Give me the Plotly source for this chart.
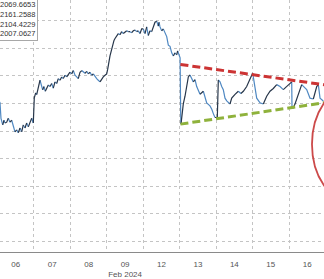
import plotly.graph_objects as go

days = ["06", "07", "08", "09", "12", "13", "14", "15", "16"]
tick_text = ["06", "07", "08", "09<br>Feb 2024", "12", "13", "14", "15", "16"]

# intraday position (fraction of the session) and price, one pair of lists per day
pos06 = [0.039,0.067,0.094,0.141,0.177,0.204,0.251,0.295,0.341,0.388,0.432,0.478,0.525,0.569,0.616,0.662,0.706,0.753,0.800,0.844,0.890,0.937,0.981]
val06 = [150.9,150.3,144.6,142.2,143.9,142.9,143.2,144.6,143.2,143.9,141.5,139.7,140.4,139.4,141.1,139.7,142.2,141.1,142.9,141.5,143.2,144.6,142.9]
pos07 = [0.008,0.047,0.074,0.118,0.165,0.192,0.239,0.274,0.310,0.349,0.393,0.439,0.486,0.530,0.576,0.623,0.667,0.714,0.760,0.804,0.851,0.898,0.942,0.988]
val07 = [152.0,153.8,153.2,156.1,158.4,157.2,154.9,156.1,154.4,155.5,156.7,156.1,157.2,155.5,157.8,157.2,159.0,158.4,159.6,159.0,160.2,159.6,160.7,161.3]
pos08 = [0.035,0.079,0.126,0.172,0.216,0.263,0.310,0.353,0.400,0.447,0.491,0.537,0.584,0.628,0.674,0.721,0.765,0.812,0.858,0.902,0.949,0.995]
val08 = [160.7,161.9,160.2,159.6,159.0,161.3,161.9,161.3,160.9,161.6,160.7,161.3,160.2,160.7,159.6,159.0,158.4,157.8,159.0,159.6,160.2,160.7]
pos09 = [0.023,0.040,0.067,0.086,0.133,0.160,0.196,0.224,0.270,0.314,0.361,0.407,0.451,0.498,0.545,0.589,0.635,0.682,0.726,0.772,0.819,0.863,0.910,0.956]
val09 = [162.4,164.8,165.8,167.2,170.0,171.1,172.8,173.5,174.6,175.3,174.9,176.0,175.3,176.0,176.3,176.0,176.0,175.6,176.3,176.6,176.0,176.3,175.3,177.0]
pos12 = [0.000,0.047,0.093,0.137,0.184,0.231,0.275,0.321,0.368,0.412,0.431,0.459,0.505,0.549,0.596,0.643,0.687,0.733,0.780,0.824,0.870,0.916,0.943,0.975]
val12 = [177.0,175.3,177.7,174.6,176.3,176.0,178.0,179.4,179.8,178.0,179.4,177.7,176.3,177.0,175.3,174.2,171.1,170.7,168.3,167.2,168.3,167.6,169.0,167.6]
pos13 = [0.010,0.027,0.035,0.098,0.145,0.190,0.236,0.282,0.373,0.420,0.466,0.557,0.648,0.700,0.740,0.831,0.880,0.922,0.968]
val13 = [166.5,145.6,142.5,149.8,152.6,156.5,159.6,160.3,157.8,158.6,156.1,153.3,154.4,151.6,150.2,149.1,147.9,146.3,144.9]
pos14 = [0.032,0.059,0.106,0.152,0.196,0.243,0.290,0.380,0.427,0.518,0.608,0.680,0.746,0.838,0.929]
val14 = [144.9,158.5,157.8,156.1,155.0,151.9,150.9,149.8,151.9,153.3,154.4,153.6,154.4,156.1,158.5]
pos15 = [0.003,0.066,0.113,0.204,0.294,0.387,0.478,0.569,0.662,0.753,0.843,0.936]
val15 = [161.0,156.1,151.9,150.2,149.8,152.6,154.4,155.4,156.8,156.1,155.0,156.1]
pos16 = [0.027,0.074,0.082,0.118,0.164,0.255,0.348,0.392,0.485,0.576,0.667,0.713,0.760,0.804,0.851,0.941]
val16 = [157.1,157.8,148.4,148.4,149.8,153.7,156.8,156.1,155.0,151.9,151.6,153.7,156.1,156.8,151.9,150.9]

day_pos = [pos06, pos07, pos08, pos09, pos12, pos13, pos14, pos15, pos16]
day_val = [val06, val07, val08, val09, val12, val13, val14, val15, val16]

# trend lines (start / end in day units and price)
res_t = [5.02, 9.0]
res_v = [164.1, 156.7]
sup_t = [5.02, 9.0]
sup_v = [142.5, 150.3]

# legend box values
box_vals = ["2069.6653", "2161.2588", "2104.4229", "2007.0627"]

t_all, v_all = [], []
for i, (ps, vs) in enumerate(zip(day_pos, day_val)):
    for p, v in zip(ps, vs):
        t_all.append(i + p)
        v_all.append(v)

# split into rising (dark) and falling (blue) runs
up_x, up_y, dn_x, dn_y = [], [], [], []
prev_dir = None
for k in range(1, len(t_all)):
    d = "up" if v_all[k] >= v_all[k - 1] else "dn"
    xs, ys = (up_x, up_y) if d == "up" else (dn_x, dn_y)
    if d != prev_dir:
        xs.extend([None, t_all[k - 1]])
        ys.extend([None, v_all[k - 1]])
    xs.append(t_all[k])
    ys.append(v_all[k])
    prev_dir = d

fig = go.Figure()
fig.add_trace(go.Scatter(x=dn_x, y=dn_y, mode="lines", line=dict(color="#4f88c2", width=1.2),
                         connectgaps=False, hoverinfo="skip"))
fig.add_trace(go.Scatter(x=up_x, y=up_y, mode="lines", line=dict(color="#27364a", width=1.2),
                         connectgaps=False, hoverinfo="skip"))
fig.add_trace(go.Scatter(x=res_t, y=res_v, mode="lines",
                         line=dict(color="#cc3434", width=3, dash="8px,4px"), hoverinfo="skip"))
fig.add_trace(go.Scatter(x=sup_t, y=sup_v, mode="lines",
                         line=dict(color="#8fb23c", width=3, dash="8px,4px"), hoverinfo="skip"))

fig.add_shape(type="circle", xref="x", yref="y", x0=8.63, x1=10.83, y0=114.3, y1=156.1,
              line=dict(color="#cc4a4a", width=1.8))

fig.add_annotation(xref="paper", yref="paper", x=38 / 324, y=1, xanchor="right", yanchor="top",
                   yshift=3, text="<br>".join(box_vals), showarrow=False, align="right",
                   font=dict(family="Liberation Sans, Arial, sans-serif", size=7.5, color="#333333"),
                   bgcolor="white", bordercolor="#a8a8a8", borderwidth=1, borderpad=2)

fig.update_layout(
    width=324, height=279,
    margin=dict(l=0, r=0, t=0, b=17),
    paper_bgcolor="white", plot_bgcolor="white",
    showlegend=False,
    font=dict(family="Liberation Sans, Arial, sans-serif", size=8, color="#555555"),
)
fig.update_xaxes(
    range=[0.067, 8.96],
    tickmode="array", tickvals=[i + 0.5 for i in range(len(days))], ticktext=tick_text,
    showgrid=False, ticks="", showline=True, linecolor="#8a8a8a", linewidth=1,
    zeroline=False, ticklabelstandoff=4,
    minor=dict(tickmode="linear", tick0=0, dtick=1, showgrid=True, gridcolor="#c4c4c4",
               griddash="dot", gridwidth=1, ticks=""),
    tickfont=dict(size=8, color="#555555"),
)
fig.update_yaxes(
    range=[96.17, 187.46], tick0=0, dtick=10, showticklabels=False, ticks="",
    showgrid=True, gridcolor="#c4c4c4", griddash="dot", gridwidth=1, zeroline=False,
)

fig.write_html("out.html")
